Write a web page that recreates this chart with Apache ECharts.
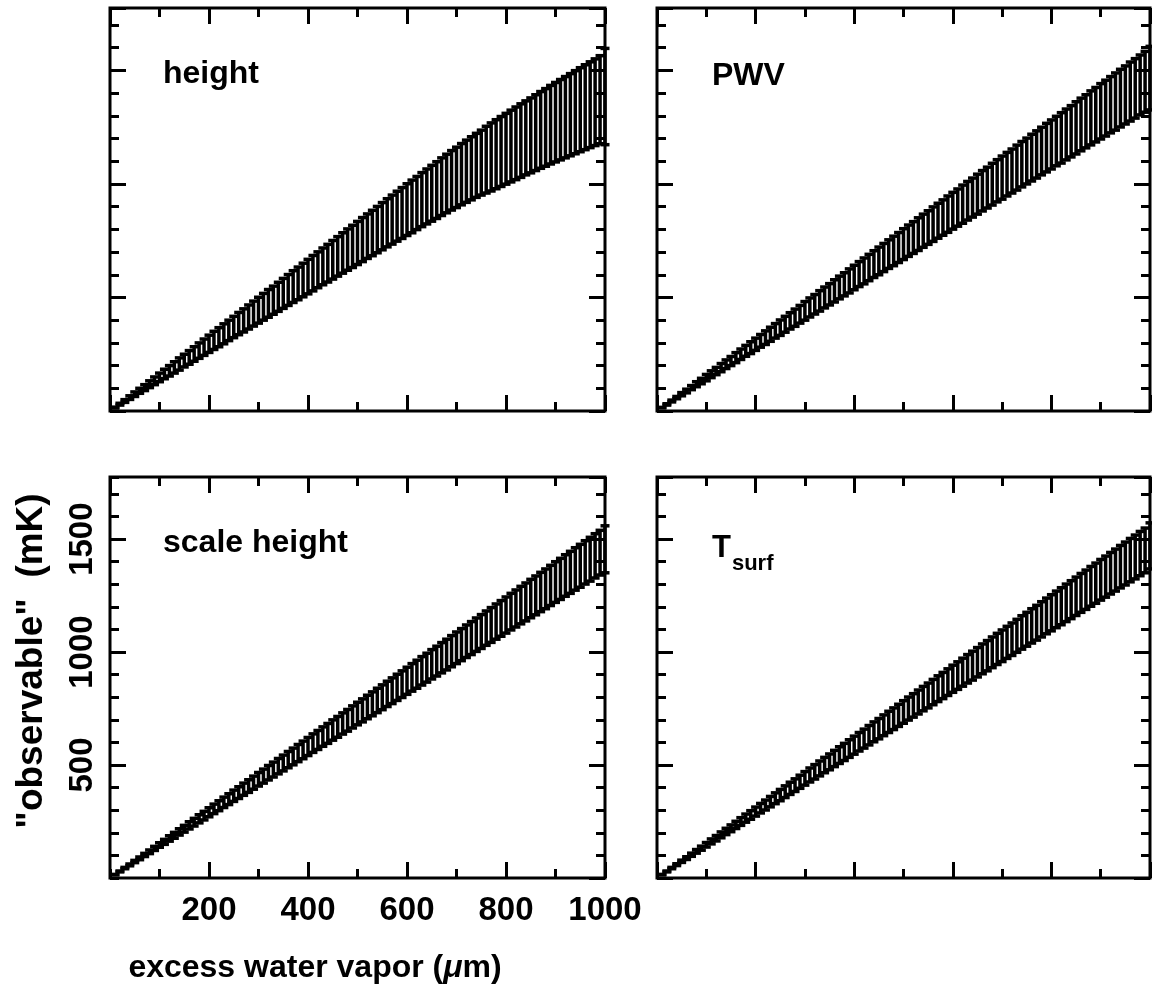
<!DOCTYPE html>
<html>
<head>
<meta charset="utf-8">
<script src="https://cdn.jsdelivr.net/npm/echarts@6/dist/echarts.min.js"></script>
<style>
  html, body { margin: 0; padding: 0; background: #fff; }
  #chart { width: 1152px; height: 995px; }
</style>
</head>
<body>
<div id="chart"></div>
<script>
// excess water vapor (um) at which each retrieval was simulated
const vapor = [
  10, 20, 30, 40, 50, 60, 70, 80, 90, 100,
  110, 120, 130, 140, 150, 160, 170, 180, 190, 200,
  210, 220, 230, 240, 250, 260, 270, 280, 290, 300,
  310, 320, 330, 340, 350, 360, 370, 380, 390, 400,
  410, 420, 430, 440, 450, 460, 470, 480, 490, 500,
  510, 520, 530, 540, 550, 560, 570, 580, 590, 600,
  610, 620, 630, 640, 650, 660, 670, 680, 690, 700,
  710, 720, 730, 740, 750, 760, 770, 780, 790, 800,
  810, 820, 830, 840, 850, 860, 870, 880, 890, 900,
  910, 920, 930, 940, 950, 960, 970, 980, 990, 1000
];

// "height" panel: mean observable (mK) and 1-sigma spread
const heightMid = [
  15, 30, 44, 59, 74, 89, 103, 118, 133, 148,
  163, 177, 192, 207, 222, 236, 251, 266, 281, 296,
  311, 325, 340, 355, 370, 385, 399, 414, 429, 444,
  459, 474, 488, 503, 518, 533, 548, 562, 577, 592,
  607, 622, 637, 651, 666, 681, 696, 711, 725, 740,
  755, 770, 784, 799, 814, 829, 843, 858, 872, 887,
  901, 916, 931, 945, 959, 973, 988, 1002, 1016, 1029,
  1043, 1056, 1069, 1082, 1094, 1107, 1119, 1131, 1143, 1155,
  1167, 1179, 1191, 1203, 1214, 1226, 1238, 1249, 1261, 1272,
  1283, 1294, 1305, 1316, 1327, 1338, 1349, 1360, 1371, 1385
];
const heightErr = [
  2, 4, 6, 8, 10, 11, 13, 15, 17, 19,
  21, 23, 25, 27, 28, 30, 32, 34, 36, 38,
  40, 42, 44, 45, 47, 49, 51, 53, 55, 57,
  59, 61, 62, 64, 66, 68, 70, 72, 74, 76,
  78, 79, 81, 83, 85, 87, 89, 91, 93, 95,
  97, 98, 100, 102, 104, 106, 108, 110, 112, 114,
  116, 117, 119, 121, 123, 125, 127, 129, 131, 133,
  135, 137, 139, 141, 143, 147, 150, 152, 154, 156,
  158, 160, 162, 163, 165, 167, 169, 171, 173, 175,
  177, 179, 181, 183, 185, 187, 189, 191, 194, 212
];

// "PWV" panel
const pwvMid = [
  15, 29, 44, 59, 74, 88, 103, 118, 132, 147,
  162, 176, 191, 206, 220, 235, 250, 265, 279, 294,
  309, 323, 338, 353, 367, 382, 397, 411, 426, 441,
  456, 470, 485, 500, 514, 529, 544, 558, 573, 588,
  603, 617, 632, 647, 661, 676, 691, 705, 720, 735,
  750, 764, 779, 794, 808, 823, 838, 852, 867, 882,
  896, 911, 926, 940, 955, 970, 984, 999, 1014, 1028,
  1043, 1057, 1072, 1087, 1101, 1116, 1130, 1145, 1160, 1174,
  1189, 1203, 1218, 1232, 1247, 1262, 1276, 1291, 1305, 1320,
  1334, 1349, 1363, 1378, 1392, 1407, 1421, 1436, 1450, 1466
];
const pwvErr = [
  1, 3, 4, 5, 7, 8, 9, 11, 12, 14,
  15, 16, 18, 19, 20, 22, 23, 24, 26, 27,
  28, 30, 31, 32, 34, 35, 36, 38, 39, 41,
  42, 43, 45, 46, 47, 49, 50, 51, 53, 54,
  55, 57, 58, 59, 61, 62, 63, 65, 66, 68,
  69, 70, 72, 73, 74, 76, 77, 78, 80, 81,
  82, 84, 85, 86, 88, 89, 90, 92, 93, 95,
  96, 97, 99, 100, 101, 103, 104, 105, 107, 108,
  109, 111, 112, 113, 115, 116, 117, 119, 120, 122,
  123, 124, 126, 127, 128, 130, 131, 132, 134, 140
];

// "scale height" panel
const scaleMid = [
  15, 29, 44, 58, 73, 87, 102, 116, 131, 146,
  160, 175, 189, 204, 218, 233, 247, 262, 276, 291,
  306, 320, 335, 349, 364, 378, 393, 407, 422, 437,
  451, 466, 480, 495, 509, 524, 538, 553, 567, 582,
  597, 611, 626, 640, 655, 669, 684, 698, 713, 728,
  742, 757, 771, 786, 800, 815, 829, 844, 858, 873,
  888, 902, 917, 931, 946, 960, 975, 989, 1004, 1019,
  1033, 1048, 1062, 1077, 1091, 1106, 1120, 1135, 1149, 1164,
  1179, 1193, 1208, 1222, 1237, 1251, 1266, 1280, 1295, 1310,
  1324, 1339, 1353, 1368, 1382, 1397, 1411, 1426, 1440, 1455
];
const scaleErr = [
  1, 2, 3, 4, 5, 6, 7, 8, 9, 10,
  11, 12, 13, 14, 15, 16, 17, 18, 19, 20,
  21, 22, 23, 24, 25, 26, 27, 28, 29, 30,
  31, 32, 33, 34, 35, 36, 37, 38, 39, 40,
  41, 42, 43, 44, 45, 46, 47, 48, 49, 50,
  51, 52, 53, 54, 55, 56, 57, 58, 59, 60,
  61, 62, 63, 64, 65, 66, 67, 68, 69, 70,
  71, 72, 73, 74, 75, 76, 77, 78, 79, 80,
  81, 82, 83, 84, 85, 86, 87, 88, 89, 90,
  91, 92, 93, 94, 95, 96, 97, 98, 99, 104
];

// "T_surf" panel
const tsurfMid = [
  15, 29, 44, 59, 74, 88, 103, 118, 132, 147,
  162, 176, 191, 206, 220, 235, 250, 265, 279, 294,
  309, 323, 338, 353, 367, 382, 397, 411, 426, 441,
  456, 470, 485, 500, 514, 529, 544, 558, 573, 588,
  603, 617, 632, 647, 661, 676, 691, 705, 720, 735,
  750, 764, 779, 794, 808, 823, 838, 852, 867, 882,
  896, 911, 926, 940, 955, 970, 984, 999, 1014, 1028,
  1043, 1057, 1072, 1087, 1101, 1116, 1130, 1145, 1160, 1174,
  1189, 1203, 1218, 1232, 1247, 1262, 1276, 1291, 1305, 1320,
  1334, 1349, 1363, 1378, 1392, 1407, 1421, 1436, 1450, 1470
];
const tsurfErr = [
  1, 2, 3, 4, 5, 6, 7, 8, 9, 10,
  11, 12, 13, 14, 15, 16, 17, 18, 19, 20,
  21, 22, 23, 24, 25, 26, 27, 28, 29, 30,
  31, 32, 33, 34, 35, 36, 37, 38, 39, 40,
  41, 42, 43, 44, 45, 46, 47, 48, 49, 50,
  51, 52, 53, 54, 55, 56, 57, 58, 59, 60,
  61, 62, 63, 64, 65, 66, 67, 68, 69, 70,
  71, 72, 73, 74, 75, 76, 77, 78, 79, 80,
  81, 82, 83, 84, 85, 86, 87, 88, 89, 90,
  91, 92, 93, 94, 95, 96, 97, 98, 99, 102
];

const xRange = [0, 1000];
const yRange = [0, 1775];
const xMajorStep = 200, xMinorStep = 100;
const yMajorStep = 500, yMinorStep = 100;

const panels = [
  { mid: heightMid, err: heightErr },
  { mid: pwvMid, err: pwvErr },
  { mid: scaleMid, err: scaleErr },
  { mid: tsurfMid, err: tsurfErr }
];

const FONT = '"Liberation Sans", Arial, Helvetica, sans-serif';

const grids = [
  { left: 110, top: 8, width: 495, height: 403 },
  { left: 657, top: 8, width: 493, height: 403 },
  { left: 110, top: 477, width: 495, height: 401 },
  { left: 657, top: 477, width: 493, height: 401 }
].map(g => Object.assign(g, { show: true, borderColor: '#000', borderWidth: 3, backgroundColor: 'transparent' }));

const labelPanel = 2;
const plainNumber = v => String(v);
const xAxes = [], yAxes = [];
grids.forEach((g, i) => {
  const hasLabels = i === labelPanel;
  [['bottom', xMajorStep, 16], ['bottom', xMinorStep, 9], ['top', xMajorStep, 16], ['top', xMinorStep, 9]]
    .forEach(([pos, step, len], k) => {
      xAxes.push({
        gridIndex: i, type: 'value', position: pos, min: xRange[0], max: xRange[1], interval: step,
        axisLine: { show: false, onZero: false }, splitLine: { show: false },
        axisTick: { show: true, inside: true, length: len, lineStyle: { color: '#000', width: 3 } },
        axisLabel: {
          show: hasLabels && k === 0, showMinLabel: false, margin: 16, formatter: plainNumber,
          color: '#000', fontFamily: FONT, fontWeight: 'bold', fontSize: 33
        }
      });
    });
  [['left', yMajorStep, 16], ['left', yMinorStep, 9], ['right', yMajorStep, 16], ['right', yMinorStep, 9]]
    .forEach(([pos, step, len], k) => {
      yAxes.push({
        gridIndex: i, type: 'value', position: pos, min: yRange[0], max: yRange[1], interval: step,
        axisLine: { show: false, onZero: false }, splitLine: { show: false },
        axisTick: { show: true, inside: true, length: len, lineStyle: { color: '#000', width: 3 } },
        axisLabel: {
          show: hasLabels && k === 0, showMinLabel: false, showMaxLabel: false, rotate: 90, margin: 11,
          formatter: plainNumber,
          color: '#000', fontFamily: FONT, fontWeight: 'bold', fontSize: 33
        }
      });
    });
});

// one vertical error bar with end caps per simulated point
function renderBar(params, api) {
  const x = api.value(0);
  const lo = api.coord([x, api.value(1)]);
  const hi = api.coord([x, api.value(2)]);
  const cap = 4.5;
  const st = { stroke: '#000', lineWidth: 3.5 };
  return {
    type: 'group',
    children: [
      { type: 'line', shape: { x1: lo[0], y1: lo[1], x2: hi[0], y2: hi[1] }, style: st },
      { type: 'line', shape: { x1: hi[0] - cap, y1: hi[1], x2: hi[0] + cap, y2: hi[1] }, style: st },
      { type: 'line', shape: { x1: lo[0] - cap, y1: lo[1], x2: lo[0] + cap, y2: lo[1] }, style: st }
    ]
  };
}

const series = panels.map((p, i) => ({
  type: 'custom',
  xAxisIndex: i * 4,
  yAxisIndex: i * 4,
  renderItem: renderBar,
  encode: { x: 0, y: [1, 2] },
  data: vapor.map((v, j) => [v, p.mid[j] - p.err[j], p.mid[j] + p.err[j]]),
  silent: true,
  animation: false
}));

const textStyle = { fill: '#000', fontFamily: FONT, fontWeight: 'bold', fontSize: 32 };
const graphic = [
  { type: 'text', left: 163, top: 58, style: Object.assign({ text: 'height' }, textStyle) },
  { type: 'text', left: 712, top: 60, style: Object.assign({ text: 'PWV' }, textStyle) },
  { type: 'text', left: 163, top: 527, style: Object.assign({ text: 'scale height' }, textStyle) },
  {
    type: 'text', left: 712, top: 533,
    style: {
      text: '{t|T}{s|surf}', fontFamily: FONT,
      rich: {
        t: { fill: '#000', fontFamily: FONT, fontWeight: 'bold', fontSize: 31, verticalAlign: 'top' },
        s: { fill: '#000', fontFamily: FONT, fontWeight: 'bold', fontSize: 22, padding: [20, 0, 0, 1] }
      }
    }
  },
  {
    type: 'text', x: 32, y: 661, rotation: Math.PI / 2,
    style: Object.assign({ text: '"observable"  (mK)', align: 'center', verticalAlign: 'middle' }, textStyle, { fontSize: 37 })
  },
  {
    type: 'text', x: 315, y: 968,
    style: {
      text: 'excess water vapor ({mu|\u03bc}m)', align: 'center', verticalAlign: 'middle',
      fill: '#000', fontFamily: FONT, fontWeight: 'bold', fontSize: 32,
      rich: { mu: { fill: '#000', fontFamily: FONT, fontWeight: 'bold', fontStyle: 'italic', fontSize: 32 } }
    }
  }
];

const chart = echarts.init(document.getElementById('chart'), null, { renderer: 'canvas' });
chart.setOption({
  animation: false,
  backgroundColor: '#fff',
  grid: grids,
  xAxis: xAxes,
  yAxis: yAxes,
  series: series,
  graphic: graphic
});
</script>
</body>
</html>
